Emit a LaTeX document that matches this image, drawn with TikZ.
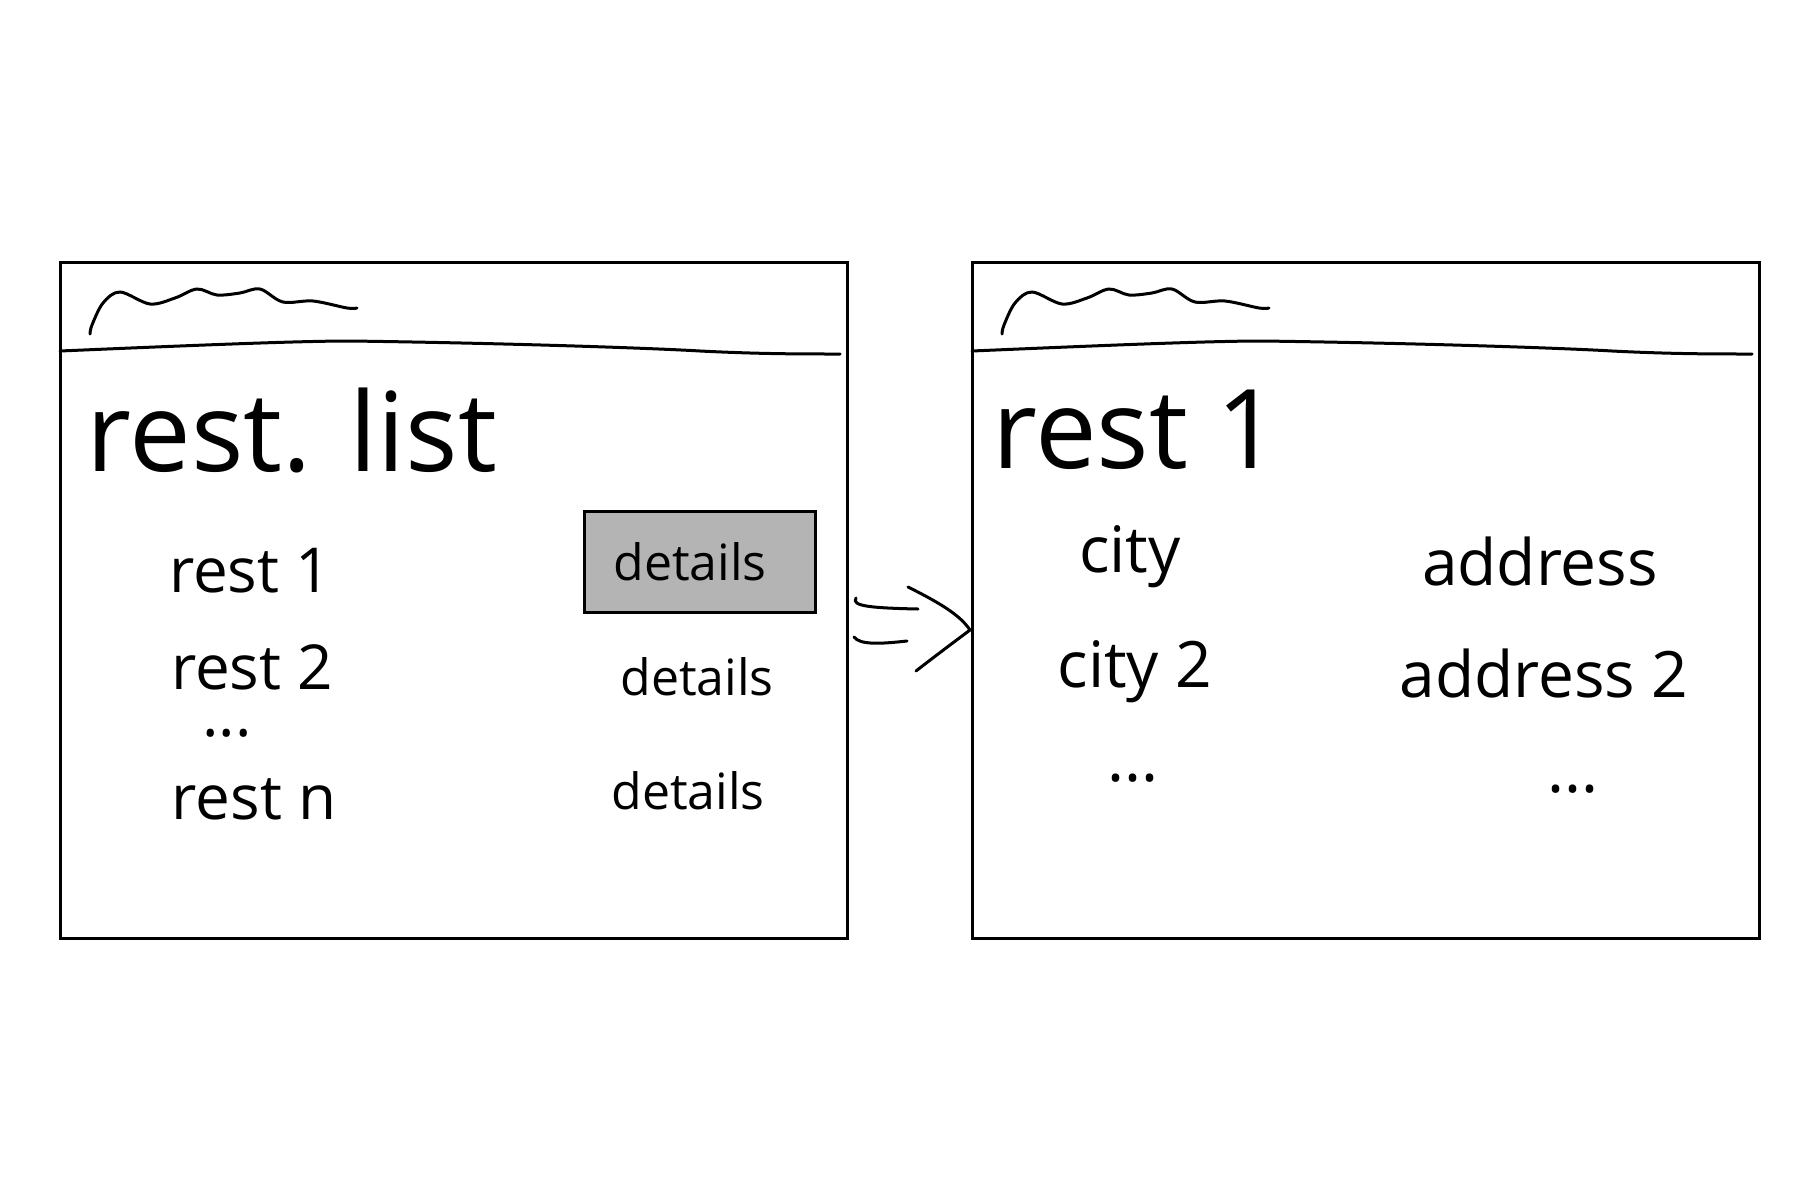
\documentclass[tikz,border=0pt]{standalone}
\usepackage{fontspec}
\setmainfont{Open Sans}
\definecolor{btngray}{HTML}{B4B4B4}
\begin{document}
\begin{tikzpicture}[x=1pt,y=-1pt,
  frame/.style={draw, line width=3pt, minimum width=787pt, minimum height=676pt, inner sep=0pt},
  pen/.style={line width=3pt, line cap=round, line join=round},
  txt/.style={inner sep=0pt, anchor=base},
  title/.style={txt, font=\fontsize{110}{116}\selectfont},
  item/.style={txt, font=\fontsize{62}{66}\selectfont},
  det/.style={txt, font=\fontsize{50}{54}\selectfont},
  field/.style={txt, font=\fontsize{64}{68}\selectfont},
  dots/.style={text height=8pt, text depth=0pt},
  button/.style={draw, line width=3pt, fill=btngray, minimum width=231pt, minimum height=101pt, inner sep=0pt}]
\useasboundingbox (0,0) rectangle (1800,1200);

% frames
\node[frame] (L) at (453.5,600) {};
\node[frame] (R) at (1366,600) {};

% header line and squiggle of each window
\foreach \dx in {0,912}{
  \begin{scope}[xshift=\dx pt]
    \draw[pen] (60,351) .. controls (200,345) and (300,341) .. (350,341)
      .. controls (500,343) and (650,348) .. (700,351)
      .. controls (760,354) and (800,354) .. (840,354);
    \draw[pen] plot[smooth, tension=0.55] coordinates {(90,334) (92,325) (103,303) (120,292) (150,304) (175,298) (197,289) (217,295) (240,293) (260,289) (283,302) (313,301) (347,308) (357,308)};
  \end{scope}
}

% left window
\node[title] (ltitle) at (292,471) {rest. list};
\node[item] (r1) at (250,592) {rest 1};
\node[item] (r2) at (252,689) {rest 2};
\node[item, dots] (rdots) at (227,736) {...};
\node[item] (rn) at (254,819) {rest n};
\node[button] (btn) at (699.5,561.5) {};
\node[det] (d1) at (690,580) {details};
\node[det] (d2) at (697,695) {details};
\node[det] (d3) at (688,809) {details};

% right window
\node[title] (rtitle) at (1136,468) {rest 1};
\node[field] (c1) at (1130,572) {city};
\node[field] (a1) at (1540,585) {address};
\node[field] (c2) at (1135,687) {city 2};
\node[field] (a2) at (1544,697) {address 2};
\node[field, dots] (cdots) at (1133,781) {...};
\node[field, dots] (adots) at (1573,792) {...};

% hand-drawn double arrow
\draw[pen] (856,598) .. controls (851,606) and (870,608) .. (918,609);
\draw[pen] (854,637) .. controls (860,645) and (880,644) .. (907,641);
\draw[pen] (908,587) .. controls (940,603) and (960,615) .. (970,630)
  .. controls (950,645) and (930,660) .. (916,671);
\end{tikzpicture}
\end{document}
